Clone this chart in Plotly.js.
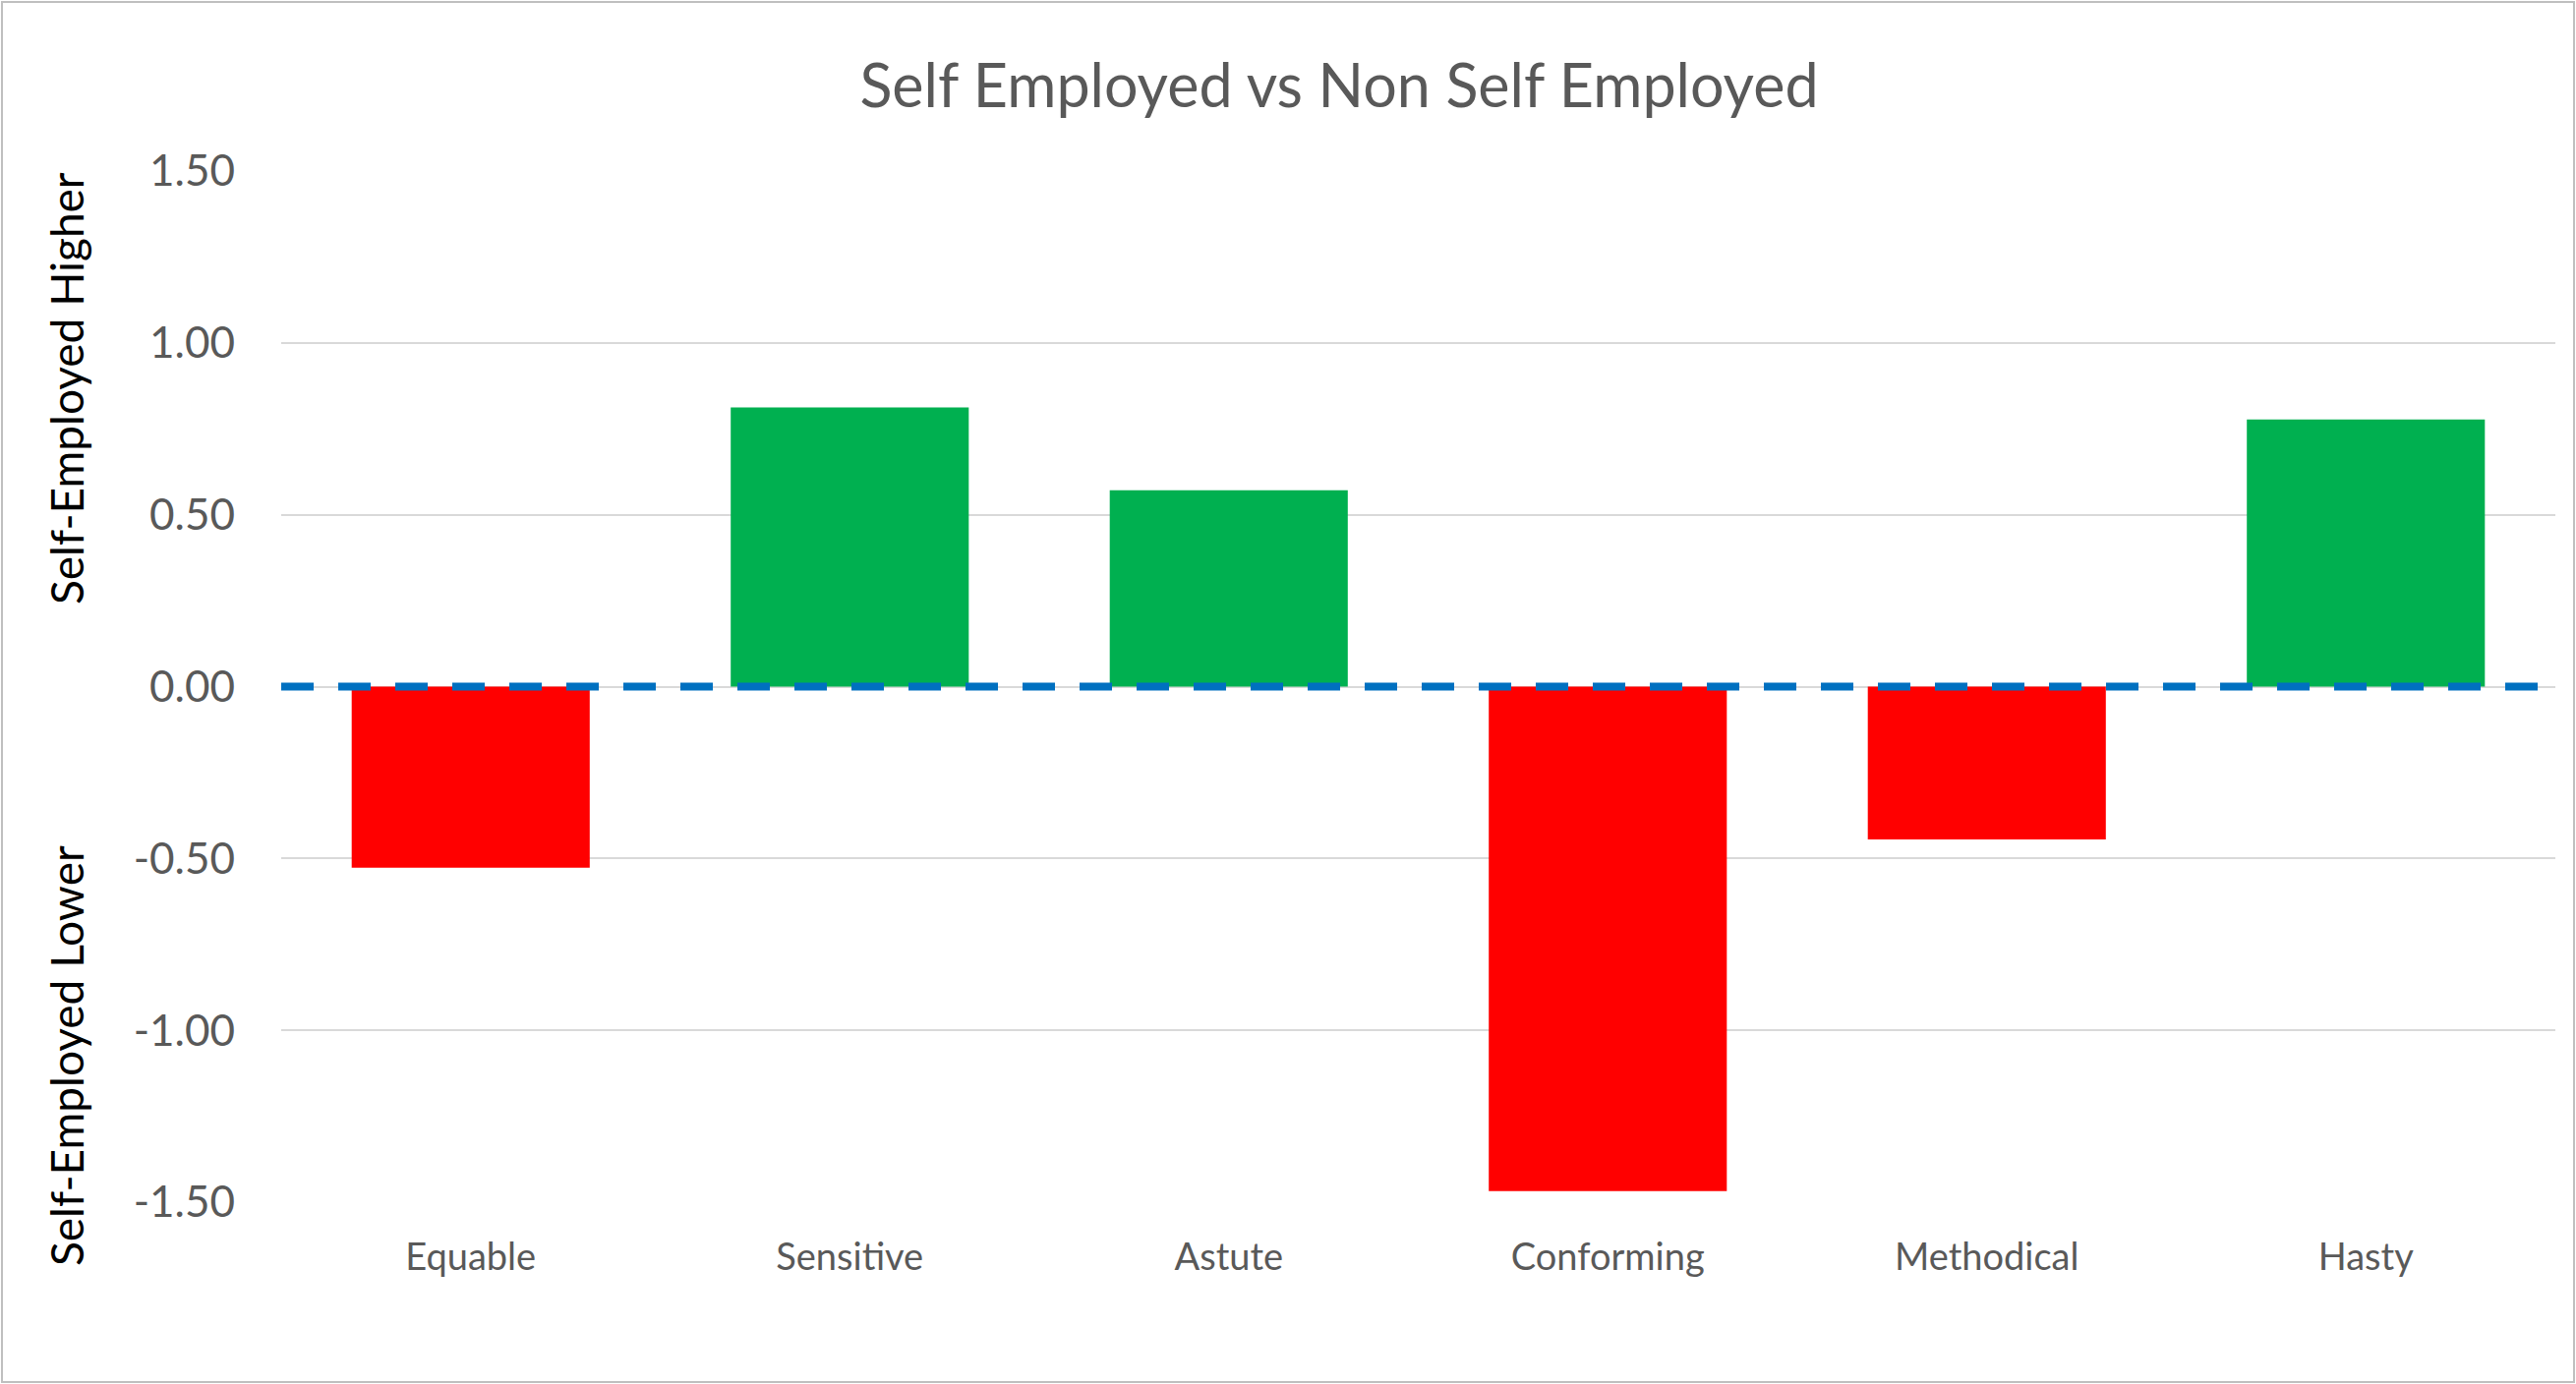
<!DOCTYPE html>
<html>
<head>
<meta charset="utf-8">
<script src="https://cdn.plot.ly/plotly-3.0.1.min.js"></script>
<style>
  html, body { margin: 0; padding: 0; background: #ffffff; }
  #chart { width: 2620px; height: 1408px; }
</style>
</head>
<body>
<div id="chart"></div>
<script>
// ---- data ----
const categories = ["Equable", "Sensitive", "Astute", "Conforming", "Methodical", "Hasty"];
const values = [-0.527, 0.812, 0.571, -1.468, -0.445, 0.777];
const yTickValues = [-1.5, -1.0, -0.5, 0.0, 0.5, 1.0, 1.5];
const yTickLabels = ["-1.50", "-1.00", "-0.50", "0.00", "0.50", "1.00", "1.50"];
const titleText = "Self Employed vs Non Self Employed";
const upperLabel = "Self-Employed Higher";
const lowerLabel = "Self-Employed Lower";

// ---- style ----
const W = 2620, H = 1408;
const M = { l: 286, r: 21, t: 174, b: 185 };
const FONT = "Lato, 'Open Sans', sans-serif";
const GREEN = "#00B050", RED = "#FF0000";
const barColors = values.map(v => (v >= 0 ? GREEN : RED));

const pw = W - M.l - M.r, ph = H - M.t - M.b;
const px2x = px => (px - M.l) / pw;
const py2y = py => (H - M.b - py) / ph;

const trace = {
  type: "bar",
  x: categories,
  y: values,
  marker: { color: barColors, line: { width: 0 } },
  hoverinfo: "x+y",
  showlegend: false
};

const layout = {
  width: W, height: H,
  margin: M,
  paper_bgcolor: "#ffffff",
  plot_bgcolor: "#ffffff",
  bargap: 0.372,
  font: { family: FONT, color: "#595959" },
  title: {
    text: titleText,
    font: { family: FONT, size: 61, color: "#595959" },
    x: 1362 / W, xref: "container", xanchor: "center",
    y: 1 - 88 / H, yref: "container", yanchor: "middle"
  },
  xaxis: {
    type: "category",
    showgrid: false, zeroline: false, showline: false,
    ticks: "",
    tickfont: { family: FONT, size: 38, color: "#595959" },
    ticklabelstandoff: 30
  },
  yaxis: {
    range: [-1.5, 1.5],
    tickvals: yTickValues,
    ticktext: yTickLabels,
    showgrid: true, gridcolor: "#D9D9D9", gridwidth: 2,
    zeroline: false, showline: false, ticks: "",
    tickfont: { family: FONT, size: 44, color: "#595959" },
    ticklabelstandoff: 46
  },
  shapes: [
    {
      type: "line", xref: "paper", yref: "y",
      x0: 0, x1: 1, y0: 0, y1: 0,
      line: { color: "#0070C0", width: 8, dash: "33px,25px" },
      layer: "above"
    },
    {
      type: "rect", xref: "paper", yref: "paper",
      x0: px2x(2), x1: px2x(2618), y0: py2y(1406), y1: py2y(2),
      line: { color: "#BFBFBF", width: 2 },
      fillcolor: "rgba(0,0,0,0)", layer: "below"
    }
  ],
  annotations: [
    {
      text: upperLabel, xref: "paper", yref: "paper",
      x: px2x(67), y: py2y(395), xanchor: "center", yanchor: "middle",
      textangle: -90, showarrow: false,
      font: { family: FONT, size: 46, color: "#000000" }
    },
    {
      text: lowerLabel, xref: "paper", yref: "paper",
      x: px2x(67), y: py2y(1074), xanchor: "center", yanchor: "middle",
      textangle: -90, showarrow: false,
      font: { family: FONT, size: 46, color: "#000000" }
    }
  ]
};

Plotly.newPlot("chart", [trace], layout, { displayModeBar: false, staticPlot: true });
</script>
</body>
</html>
